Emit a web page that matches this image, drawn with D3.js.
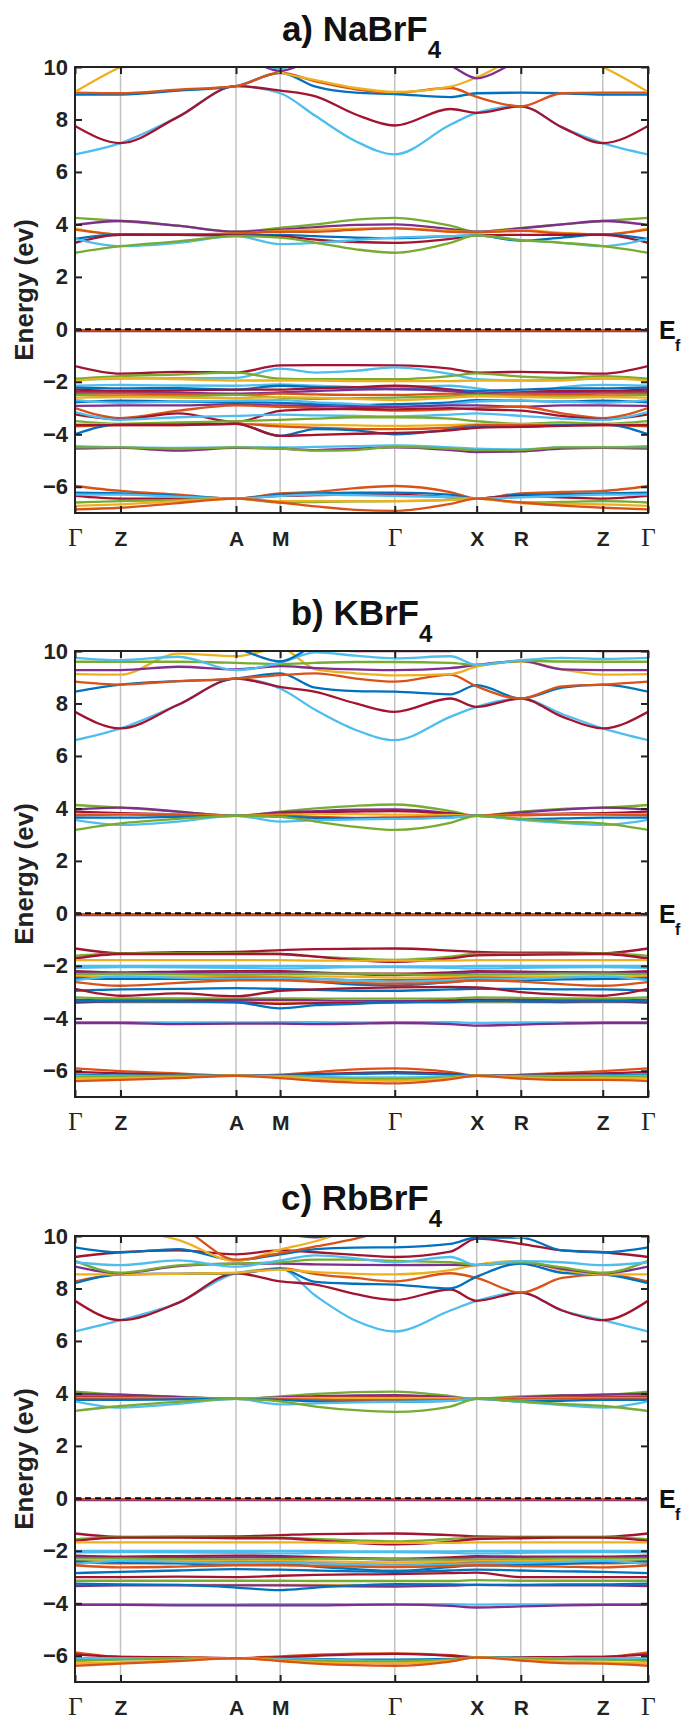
<!DOCTYPE html>
<html>
<head>
<meta charset="utf-8">
<script src="https://cdn.jsdelivr.net/npm/d3@7"></script>
<style>
  body { margin: 0; background: #fff; }
</style>
</head>
<body>
<div id="chart"></div>
<script>
// k-path sample points (fraction of path length) and high-symmetry ticks
const kPos = [0, 0.0794, 0.18, 0.281, 0.358, 0.42, 0.49, 0.558, 0.655, 0.701, 0.778, 0.85, 0.921, 1.0];
const kTicks = [0, 0.0794, 0.281, 0.358, 0.558, 0.701, 0.778, 0.921, 1.0];
const kLabels = ["\u0393", "Z", "A", "M", "\u0393", "X", "R", "Z", "\u0393"];
const yTicks = [-6, -4, -2, 0, 2, 4, 6, 8, 10];
const titles = ["a) NaBrF", "b) KBrF", "c) RbBrF"];

// MATLAB default colour order
const palette = { b: "#0072BD", o: "#D95319", y: "#EDB120", p: "#7E2F8E", g: "#77AC30", c: "#4DBEEE", r: "#A2142F" };

// ---------- a) NaBrF4 ----------
const naBands = [
  [6.67, 7.1, 8.1, 9.27, 9.0, 8.13, 7.17, 6.67, 7.8, 8.25, 8.5, 7.7, 7.1, 6.67],
  [7.75, 7.1, 8.1, 9.27, 9.1, 8.88, 8.19, 7.77, 8.4, 8.25, 8.5, 7.7, 7.1, 7.75],
  [8.95, 8.95, 9.1, 9.27, 9.78, 9.25, 9.02, 8.97, 8.85, 9.0, 9.02, 9.0, 8.95, 8.95],
  [9.02, 9.0, 9.14, 9.27, 9.78, 9.45, 9.15, 9.02, 9.2, 8.86, 8.5, 9.0, 9.02, 9.02],
  [9.05, 10.0, 10.8, 10.5, 9.8, 9.5, 9.2, 9.05, 9.25, 9.6, 10.4, 10.6, 10.0, 9.05],
  [10.3, 10.0, 10.1, 10.4, 9.85, 10.3, 10.5, 10.5, 10.05, 9.57, 10.2, 10.3, 10.0, 10.3],
  [10.6, 10.6, 10.5, 10.3, 9.95, 10.4, 10.6, 10.6, 10.6, 10.3, 10.5, 10.6, 10.6, 10.6],
  [4.25, 4.13, 3.95, 3.72, 3.87, 4.0, 4.18, 4.25, 3.95, 3.72, 3.87, 4.0, 4.13, 4.25],
  [3.98, 4.13, 3.95, 3.72, 3.8, 3.9, 3.98, 4.0, 3.82, 3.72, 3.85, 4.0, 4.13, 3.98],
  [3.85, 3.62, 3.62, 3.65, 3.75, 3.8, 3.84, 3.86, 3.75, 3.7, 3.78, 3.68, 3.62, 3.85],
  [3.8, 3.62, 3.62, 3.65, 3.72, 3.72, 3.8, 3.85, 3.72, 3.7, 3.75, 3.65, 3.62, 3.8],
  [3.45, 3.62, 3.6, 3.58, 3.6, 3.55, 3.5, 3.48, 3.55, 3.58, 3.38, 3.5, 3.62, 3.45],
  [3.3, 3.6, 3.6, 3.58, 3.55, 3.42, 3.33, 3.3, 3.45, 3.58, 3.6, 3.6, 3.6, 3.3],
  [3.45, 3.17, 3.3, 3.55, 3.25, 3.3, 3.4, 3.5, 3.55, 3.58, 3.4, 3.3, 3.17, 3.45],
  [2.92, 3.17, 3.35, 3.55, 3.5, 3.3, 3.05, 2.92, 3.3, 3.58, 3.4, 3.3, 3.17, 2.92],
  [-0.07, -0.07, -0.07, -0.07, -0.07, -0.07, -0.07, -0.07, -0.07, -0.07, -0.07, -0.07, -0.07, -0.07],
  [-0.03, -0.03, -0.03, -0.03, -0.03, -0.03, -0.03, -0.03, -0.03, -0.03, -0.03, -0.03, -0.03, -0.03],
  [-1.40, -1.69, -1.62, -1.65, -1.37, -1.36, -1.36, -1.37, -1.5, -1.65, -1.62, -1.65, -1.69, -1.40],
  [-1.92, -1.88, -1.86, -1.85, -1.5, -1.65, -1.58, -1.45, -1.7, -1.9, -1.95, -1.92, -1.88, -1.92],
  [-1.88, -1.78, -1.72, -1.65, -1.88, -1.9, -1.9, -1.9, -1.78, -1.68, -1.8, -1.85, -1.78, -1.88],
  [-1.96, -1.85, -1.9, -1.95, -1.95, -1.95, -1.97, -1.97, -1.97, -1.95, -1.95, -1.95, -1.85, -1.96],
  [-2.15, -2.12, -2.14, -2.15, -2.1, -2.15, -2.2, -2.2, -2.15, -2.25, -2.45, -2.2, -2.12, -2.15],
  [-2.22, -2.25, -2.24, -2.3, -2.15, -2.2, -2.22, -2.28, -2.3, -2.35, -2.3, -2.25, -2.25, -2.22],
  [-2.3, -2.35, -2.33, -2.3, -2.3, -2.25, -2.2, -2.15, -2.3, -2.45, -2.4, -2.35, -2.35, -2.3],
  [-2.38, -2.4, -2.42, -2.45, -2.4, -2.35, -2.3, -2.28, -2.35, -2.45, -2.4, -2.42, -2.4, -2.38],
  [-2.45, -2.45, -2.47, -2.5, -2.45, -2.48, -2.5, -2.5, -2.45, -2.5, -2.45, -2.47, -2.45, -2.45],
  [-2.5, -2.55, -2.55, -2.5, -2.6, -2.65, -2.62, -2.6, -2.55, -2.5, -2.55, -2.55, -2.55, -2.5],
  [-2.6, -2.58, -2.6, -2.62, -2.58, -2.6, -2.65, -2.7, -2.6, -2.55, -2.58, -2.6, -2.58, -2.6],
  [-2.78, -2.72, -2.75, -2.78, -2.8, -2.85, -2.88, -2.85, -2.78, -2.7, -2.72, -2.75, -2.72, -2.78],
  [-2.7, -2.8, -2.75, -2.72, -2.7, -2.78, -2.85, -2.95, -2.85, -2.75, -2.72, -2.75, -2.8, -2.7],
  [-2.92, -2.9, -2.9, -2.85, -2.9, -2.92, -2.95, -2.95, -2.9, -2.9, -2.95, -2.9, -2.9, -2.92],
  [-3.0, -3.38, -3.1, -2.9, -2.95, -3.0, -3.05, -3.1, -3.05, -3.0, -2.95, -3.2, -3.38, -3.0],
  [-3.24, -3.43, -3.2, -3.53, -3.11, -3.05, -3.03, -3.05, -3.0, -3.05, -3.1, -3.3, -3.43, -3.24],
  [-3.15, -3.45, -3.35, -3.3, -3.25, -3.28, -3.3, -3.32, -3.25, -3.2, -3.3, -3.4, -3.45, -3.15],
  [-3.5, -3.6, -3.55, -3.5, -3.45, -3.4, -3.35, -3.35, -3.4, -3.5, -3.6, -3.55, -3.6, -3.5],
  [-3.62, -3.62, -3.62, -3.6, -3.62, -3.64, -3.66, -3.68, -3.65, -3.62, -3.62, -3.62, -3.62, -3.62],
  [-3.7, -3.65, -3.65, -3.6, -3.7, -3.75, -3.8, -3.8, -3.75, -3.65, -3.65, -3.65, -3.65, -3.7],
  [-4.0, -3.62, -3.62, -3.6, -4.06, -3.8, -3.85, -4.0, -3.82, -3.72, -3.72, -3.65, -3.62, -4.0],
  [-3.65, -3.65, -3.65, -3.6, -4.06, -4.02, -3.98, -3.95, -3.85, -3.75, -3.72, -3.68, -3.65, -3.65],
  [-4.45, -4.5, -4.52, -4.5, -4.5, -4.48, -4.45, -4.42, -4.5, -4.55, -4.58, -4.5, -4.5, -4.45],
  [-4.55, -4.52, -4.62, -4.52, -4.55, -4.6, -4.55, -4.5, -4.6, -4.68, -4.65, -4.55, -4.52, -4.55],
  [-4.5, -4.5, -4.55, -4.5, -4.55, -4.62, -4.6, -4.48, -4.55, -4.6, -4.6, -4.5, -4.5, -4.5],
  [-5.97, -6.16, -6.3, -6.45, -6.25, -6.2, -6.05, -5.97, -6.2, -6.45, -6.25, -6.2, -6.16, -5.97],
  [-6.22, -6.25, -6.35, -6.45, -6.3, -6.25, -6.22, -6.22, -6.3, -6.45, -6.3, -6.28, -6.25, -6.22],
  [-6.35, -6.45, -6.45, -6.45, -6.35, -6.32, -6.3, -6.3, -6.4, -6.45, -6.35, -6.4, -6.45, -6.35],
  [-6.3, -6.3, -6.38, -6.45, -6.35, -6.3, -6.32, -6.35, -6.4, -6.45, -6.4, -6.35, -6.3, -6.3],
  [-6.6, -6.55, -6.5, -6.45, -6.6, -6.58, -6.56, -6.55, -6.5, -6.45, -6.6, -6.58, -6.55, -6.6],
  [-6.73, -6.67, -6.55, -6.45, -6.55, -6.55, -6.55, -6.55, -6.5, -6.45, -6.62, -6.65, -6.67, -6.73],
  [-6.86, -6.8, -6.62, -6.45, -6.6, -6.75, -6.88, -6.92, -6.65, -6.45, -6.6, -6.72, -6.8, -6.86]
];
const naColors = ["c","r","b","o","y","p","c",
  "g","p","y","o","b","r","c","g",
  "p","o",
  "r","c","g","y","c","b","r","p","o","g","y","b","c","p","o","r","c","g","y","o","b","r","c","p","g",
  "o","b","r","c","g","y","o"];

// ---------- b) KBrF4 ----------
const kBands = [
  [6.6, 7.05, 7.95, 8.95, 8.57, 7.75, 6.99, 6.6, 7.49, 7.87, 8.19, 7.6, 7.05, 6.6],
  [7.68, 7.05, 7.95, 8.95, 8.63, 8.44, 8.0, 7.68, 8.19, 7.87, 8.19, 7.5, 7.05, 7.68],
  [8.45, 8.72, 8.85, 8.95, 9.15, 8.6, 8.47, 8.45, 8.35, 8.7, 8.19, 8.6, 8.72, 8.45],
  [8.83, 8.72, 8.85, 8.95, 9.08, 9.15, 8.95, 8.83, 9.1, 8.65, 8.19, 8.65, 8.72, 8.83],
  [9.12, 9.1, 9.9, 9.8, 10.1, 9.3, 9.15, 9.07, 9.12, 9.4, 9.6, 9.3, 9.1, 9.12],
  [9.27, 9.27, 9.4, 9.3, 9.42, 9.35, 9.3, 9.27, 9.35, 9.47, 9.62, 9.3, 9.27, 9.27],
  [9.59, 9.59, 9.59, 9.55, 9.5, 9.55, 9.58, 9.58, 9.55, 9.47, 9.62, 9.6, 9.59, 9.59],
  [9.74, 9.65, 9.78, 9.27, 9.55, 9.95, 9.82, 9.72, 9.8, 9.47, 9.65, 9.74, 9.7, 9.74],
  [10.5, 10.5, 10.4, 10.1, 9.6, 10.2, 10.4, 10.5, 10.5, 10.5, 10.4, 10.5, 10.5, 10.5],
  [10.0, 10.05, 10.3, 10.3, 10.2, 10.05, 10.0, 10.0, 10.0, 10.2, 10.2, 10.05, 10.0, 10.0],
  [4.13, 4.03, 3.88, 3.72, 3.88, 4.0, 4.1, 4.15, 3.9, 3.72, 3.88, 3.98, 4.03, 4.13],
  [3.96, 4.03, 3.88, 3.72, 3.85, 3.9, 3.95, 3.96, 3.82, 3.72, 3.85, 3.95, 4.03, 3.96],
  [3.88, 3.82, 3.77, 3.72, 3.8, 3.85, 3.88, 3.9, 3.8, 3.72, 3.78, 3.8, 3.82, 3.88],
  [3.78, 3.78, 3.76, 3.74, 3.76, 3.78, 3.78, 3.76, 3.75, 3.72, 3.76, 3.78, 3.78, 3.78],
  [3.74, 3.76, 3.74, 3.72, 3.72, 3.68, 3.64, 3.66, 3.7, 3.72, 3.74, 3.76, 3.76, 3.74],
  [3.65, 3.65, 3.68, 3.72, 3.68, 3.64, 3.62, 3.62, 3.66, 3.72, 3.6, 3.62, 3.65, 3.65],
  [3.56, 3.37, 3.5, 3.72, 3.5, 3.55, 3.58, 3.6, 3.65, 3.72, 3.56, 3.45, 3.37, 3.56],
  [3.18, 3.43, 3.6, 3.72, 3.68, 3.5, 3.3, 3.18, 3.45, 3.72, 3.6, 3.5, 3.43, 3.18],
  [-0.07, -0.07, -0.07, -0.07, -0.07, -0.07, -0.07, -0.07, -0.07, -0.07, -0.07, -0.07, -0.07, -0.07],
  [-0.03, -0.03, -0.03, -0.03, -0.03, -0.03, -0.03, -0.03, -0.03, -0.03, -0.03, -0.03, -0.03, -0.03],
  [-1.34, -1.52, -1.48, -1.47, -1.4, -1.36, -1.35, -1.34, -1.42, -1.47, -1.5, -1.5, -1.52, -1.34],
  [-1.62, -1.53, -1.52, -1.52, -1.55, -1.65, -1.72, -1.77, -1.65, -1.55, -1.55, -1.55, -1.53, -1.62],
  [-1.72, -1.55, -1.55, -1.55, -1.55, -1.65, -1.78, -1.85, -1.72, -1.6, -1.58, -1.56, -1.55, -1.72],
  [-1.78, -1.78, -1.78, -1.78, -1.78, -1.8, -1.8, -1.8, -1.8, -1.78, -1.78, -1.78, -1.78, -1.78],
  [-2.0, -2.0, -2.0, -2.0, -2.0, -2.0, -2.02, -2.02, -2.02, -2.0, -2.0, -2.0, -2.0, -2.0],
  [-2.08, -2.05, -2.06, -2.08, -2.1, -2.08, -2.05, -2.05, -2.08, -2.1, -2.08, -2.06, -2.05, -2.08],
  [-2.2, -2.25, -2.22, -2.2, -2.2, -2.25, -2.3, -2.3, -2.25, -2.2, -2.22, -2.24, -2.25, -2.2],
  [-2.25, -2.28, -2.27, -2.25, -2.25, -2.28, -2.32, -2.35, -2.3, -2.25, -2.25, -2.27, -2.28, -2.25],
  [-2.32, -2.3, -2.32, -2.35, -2.32, -2.3, -2.3, -2.32, -2.35, -2.35, -2.32, -2.3, -2.3, -2.32],
  [-2.38, -2.4, -2.4, -2.42, -2.4, -2.4, -2.42, -2.45, -2.42, -2.4, -2.4, -2.4, -2.4, -2.38],
  [-2.45, -2.5, -2.48, -2.45, -2.45, -2.5, -2.55, -2.55, -2.5, -2.45, -2.48, -2.5, -2.5, -2.45],
  [-2.48, -2.5, -2.5, -2.53, -2.52, -2.6, -2.72, -2.75, -2.62, -2.55, -2.55, -2.52, -2.5, -2.48],
  [-2.55, -2.4, -2.45, -2.5, -2.48, -2.5, -2.55, -2.6, -2.55, -2.5, -2.5, -2.45, -2.4, -2.55],
  [-2.62, -2.76, -2.65, -2.55, -2.55, -2.6, -2.65, -2.68, -2.62, -2.55, -2.6, -2.7, -2.76, -2.62],
  [-2.95, -2.9, -2.88, -2.85, -2.88, -2.92, -2.95, -2.95, -2.9, -2.88, -2.88, -2.9, -2.9, -2.95],
  [-2.88, -3.14, -3.05, -3.16, -2.95, -2.9, -2.85, -2.82, -2.8, -2.82, -3.0, -3.1, -3.14, -2.88],
  [-3.2, -3.24, -3.24, -3.24, -3.24, -3.25, -3.25, -3.25, -3.25, -3.2, -3.22, -3.24, -3.24, -3.2],
  [-3.3, -3.32, -3.32, -3.3, -3.3, -3.32, -3.35, -3.35, -3.32, -3.3, -3.3, -3.32, -3.32, -3.3],
  [-3.38, -3.39, -3.39, -3.39, -3.39, -3.39, -3.39, -3.4, -3.39, -3.39, -3.39, -3.39, -3.39, -3.38],
  [-3.4, -3.35, -3.35, -3.38, -3.45, -3.42, -3.4, -3.38, -3.35, -3.3, -3.35, -3.38, -3.35, -3.4],
  [-3.35, -3.35, -3.36, -3.39, -3.62, -3.5, -3.45, -3.39, -3.38, -3.35, -3.36, -3.36, -3.35, -3.35],
  [-4.15, -4.15, -4.16, -4.16, -4.15, -4.15, -4.16, -4.15, -4.15, -4.18, -4.16, -4.16, -4.15, -4.15],
  [-4.18, -4.18, -4.22, -4.2, -4.2, -4.22, -4.2, -4.18, -4.22, -4.28, -4.24, -4.2, -4.18, -4.18],
  [-5.91, -6.01, -6.1, -6.19, -6.15, -6.05, -5.95, -5.91, -6.05, -6.19, -6.15, -6.08, -6.01, -5.91],
  [-6.04, -6.1, -6.15, -6.19, -6.18, -6.12, -6.08, -6.05, -6.12, -6.19, -6.17, -6.12, -6.1, -6.04],
  [-6.14, -6.18, -6.19, -6.19, -6.19, -6.15, -6.12, -6.1, -6.15, -6.19, -6.2, -6.2, -6.18, -6.14],
  [-6.19, -6.2, -6.2, -6.19, -6.2, -6.22, -6.25, -6.25, -6.22, -6.19, -6.2, -6.2, -6.2, -6.19],
  [-6.25, -6.22, -6.2, -6.19, -6.22, -6.28, -6.32, -6.32, -6.25, -6.19, -6.22, -6.24, -6.22, -6.25],
  [-6.29, -6.28, -6.25, -6.19, -6.24, -6.3, -6.36, -6.38, -6.28, -6.19, -6.26, -6.3, -6.28, -6.29],
  [-6.39, -6.35, -6.28, -6.19, -6.28, -6.38, -6.45, -6.48, -6.32, -6.19, -6.3, -6.35, -6.35, -6.39]
];
const kColors = ["c","r","b","o","y","p","g","c","b","r",
  "g","p","r","y","o","b","c","g",
  "p","o",
  "r","g","r","y","c","c","r","p","g","y","o","b","c","o","b","r","g","p","y","r","b","c","p",
  "o","r","b","c","g","y","o"];

// ---------- c) RbBrF4 ----------
const rbBands = [
  [6.36, 6.79, 7.45, 8.58, 8.75, 7.72, 6.77, 6.36, 7.16, 7.53, 7.84, 7.16, 6.79, 6.36],
  [7.53, 6.79, 7.45, 8.58, 8.27, 8.15, 7.78, 7.56, 7.96, 7.53, 7.84, 7.16, 6.79, 7.53],
  [8.27, 8.54, 8.56, 8.58, 8.77, 8.55, 8.4, 8.27, 8.58, 8.4, 7.84, 8.4, 8.54, 8.27],
  [8.2, 8.54, 8.56, 8.58, 8.75, 8.25, 8.18, 8.15, 8.0, 8.45, 8.95, 8.6, 8.54, 8.2],
  [8.54, 8.54, 8.56, 8.6, 8.72, 8.62, 8.56, 8.54, 8.7, 8.9, 9.05, 8.7, 8.54, 8.54],
  [8.83, 8.58, 8.85, 8.95, 8.95, 8.92, 8.9, 8.89, 8.9, 8.89, 9.0, 8.75, 8.58, 8.83],
  [9.05, 8.6, 8.88, 8.95, 9.0, 9.1, 9.1, 9.05, 9.0, 8.9, 9.0, 8.8, 8.6, 9.05],
  [9.0, 8.89, 9.07, 8.83, 9.07, 9.26, 9.15, 9.0, 9.2, 8.89, 9.04, 9.0, 8.89, 9.0],
  [9.2, 9.38, 9.45, 9.3, 9.45, 9.38, 9.28, 9.2, 9.4, 9.9, 9.7, 9.45, 9.38, 9.2],
  [9.57, 9.38, 9.5, 9.07, 9.3, 9.5, 9.56, 9.57, 9.7, 9.94, 9.94, 9.45, 9.38, 9.57],
  [10.6, 10.3, 9.85, 9.05, 9.48, 9.8, 10.3, 10.6, 10.5, 10.4, 9.95, 10.3, 10.3, 10.6],
  [10.5, 10.5, 10.3, 9.1, 9.35, 9.6, 9.9, 10.3, 10.5, 10.5, 10.5, 10.5, 10.5, 10.5],
  [10.5, 10.5, 10.5, 10.4, 10.1, 9.95, 10.3, 10.5, 10.5, 10.5, 10.5, 10.5, 10.5, 10.5],
  [4.07, 3.95, 3.88, 3.79, 3.89, 3.98, 4.05, 4.07, 3.9, 3.79, 3.89, 3.93, 3.95, 4.07],
  [3.98, 3.95, 3.86, 3.79, 3.85, 3.9, 3.92, 3.93, 3.85, 3.79, 3.85, 3.92, 3.95, 3.98],
  [3.89, 3.86, 3.82, 3.79, 3.82, 3.85, 3.86, 3.86, 3.82, 3.79, 3.82, 3.85, 3.86, 3.89],
  [3.83, 3.83, 3.82, 3.8, 3.82, 3.83, 3.83, 3.83, 3.82, 3.8, 3.82, 3.83, 3.83, 3.83],
  [3.8, 3.8, 3.8, 3.79, 3.78, 3.76, 3.74, 3.74, 3.76, 3.79, 3.8, 3.8, 3.8, 3.8],
  [3.75, 3.75, 3.77, 3.79, 3.75, 3.7, 3.68, 3.68, 3.72, 3.79, 3.7, 3.72, 3.75, 3.75],
  [3.7, 3.46, 3.6, 3.79, 3.58, 3.62, 3.66, 3.68, 3.72, 3.79, 3.68, 3.55, 3.46, 3.7],
  [3.33, 3.52, 3.68, 3.79, 3.7, 3.5, 3.36, 3.3, 3.5, 3.79, 3.7, 3.6, 3.52, 3.33],
  [-0.07, -0.07, -0.07, -0.07, -0.07, -0.07, -0.07, -0.07, -0.07, -0.07, -0.07, -0.07, -0.07, -0.07],
  [-0.03, -0.03, -0.03, -0.03, -0.03, -0.03, -0.03, -0.03, -0.03, -0.03, -0.03, -0.03, -0.03, -0.03],
  [-1.34, -1.47, -1.46, -1.45, -1.4, -1.36, -1.35, -1.34, -1.4, -1.45, -1.47, -1.47, -1.47, -1.34],
  [-1.56, -1.48, -1.48, -1.5, -1.5, -1.55, -1.6, -1.64, -1.55, -1.5, -1.5, -1.48, -1.48, -1.56],
  [-1.62, -1.5, -1.5, -1.52, -1.52, -1.6, -1.7, -1.75, -1.65, -1.55, -1.52, -1.5, -1.5, -1.62],
  [-1.68, -1.68, -1.68, -1.68, -1.68, -1.68, -1.7, -1.7, -1.7, -1.68, -1.68, -1.68, -1.68, -1.68],
  [-2.0, -2.0, -2.0, -2.0, -2.0, -2.0, -2.02, -2.02, -2.02, -2.0, -2.0, -2.0, -2.0, -2.0],
  [-2.06, -2.05, -2.06, -2.08, -2.1, -2.08, -2.05, -2.05, -2.08, -2.1, -2.08, -2.06, -2.05, -2.06],
  [-2.18, -2.22, -2.2, -2.18, -2.2, -2.24, -2.28, -2.3, -2.25, -2.2, -2.22, -2.22, -2.22, -2.18],
  [-2.24, -2.27, -2.26, -2.25, -2.25, -2.28, -2.3, -2.33, -2.3, -2.25, -2.25, -2.26, -2.27, -2.24],
  [-2.3, -2.3, -2.32, -2.34, -2.32, -2.3, -2.3, -2.32, -2.34, -2.34, -2.32, -2.3, -2.3, -2.3],
  [-2.36, -2.38, -2.38, -2.4, -2.38, -2.4, -2.42, -2.44, -2.42, -2.4, -2.38, -2.38, -2.38, -2.36],
  [-2.42, -2.48, -2.46, -2.44, -2.44, -2.48, -2.52, -2.54, -2.5, -2.45, -2.46, -2.48, -2.48, -2.42],
  [-2.4, -2.45, -2.48, -2.53, -2.5, -2.6, -2.7, -2.76, -2.62, -2.55, -2.55, -2.5, -2.45, -2.4],
  [-2.5, -2.38, -2.42, -2.46, -2.45, -2.48, -2.52, -2.56, -2.52, -2.48, -2.46, -2.42, -2.38, -2.5],
  [-2.55, -2.63, -2.6, -2.55, -2.55, -2.58, -2.6, -2.62, -2.58, -2.55, -2.58, -2.6, -2.63, -2.55],
  [-2.85, -2.8, -2.75, -2.7, -2.72, -2.75, -2.78, -2.8, -2.75, -2.72, -2.75, -2.78, -2.8, -2.85],
  [-3.0, -3.0, -2.98, -3.0, -2.95, -2.92, -2.9, -2.89, -2.85, -2.83, -3.0, -3.0, -3.0, -3.0],
  [-3.14, -3.14, -3.14, -3.14, -3.14, -3.15, -3.15, -3.15, -3.15, -3.12, -3.14, -3.14, -3.14, -3.14],
  [-3.3, -3.3, -3.3, -3.3, -3.3, -3.3, -3.3, -3.31, -3.3, -3.3, -3.3, -3.3, -3.3, -3.3],
  [-3.34, -3.32, -3.32, -3.32, -3.32, -3.33, -3.35, -3.36, -3.33, -3.3, -3.32, -3.32, -3.32, -3.34],
  [-3.25, -3.28, -3.3, -3.4, -3.5, -3.4, -3.32, -3.27, -3.28, -3.3, -3.3, -3.28, -3.28, -3.25],
  [-4.03, -4.03, -4.04, -4.04, -4.03, -4.03, -4.04, -4.03, -4.03, -4.05, -4.04, -4.04, -4.03, -4.03],
  [-4.06, -4.06, -4.08, -4.08, -4.08, -4.08, -4.06, -4.05, -4.1, -4.16, -4.12, -4.08, -4.06, -4.06],
  [-5.87, -6.04, -6.06, -6.09, -6.02, -5.96, -5.92, -5.91, -5.98, -6.06, -6.06, -6.05, -6.04, -5.87],
  [-5.95, -6.04, -6.06, -6.09, -6.05, -6.0, -5.95, -5.93, -6.0, -6.06, -6.06, -6.05, -6.04, -5.95],
  [-6.12, -6.1, -6.1, -6.09, -6.1, -6.12, -6.15, -6.15, -6.12, -6.06, -6.08, -6.1, -6.1, -6.12],
  [-6.09, -6.1, -6.1, -6.09, -6.12, -6.15, -6.18, -6.2, -6.15, -6.06, -6.08, -6.1, -6.1, -6.09],
  [-6.19, -6.15, -6.12, -6.09, -6.15, -6.2, -6.22, -6.22, -6.15, -6.06, -6.1, -6.14, -6.15, -6.19],
  [-6.29, -6.25, -6.18, -6.09, -6.18, -6.25, -6.28, -6.29, -6.2, -6.06, -6.15, -6.22, -6.25, -6.29],
  [-6.38, -6.3, -6.2, -6.09, -6.2, -6.3, -6.36, -6.38, -6.22, -6.06, -6.18, -6.28, -6.3, -6.38]
];
const rbColors = ["c","r","o","b","y","p","g","c","r","b","y","o","p",
  "g","p","r","y","o","b","c","g",
  "p","o",
  "r","g","r","y","c","c","r","p","g","y","o","b","c","o","b","r","g","y","p","b","c","p",
  "o","r","b","c","g","y","o"];

const panelBands = [naBands, kBands, rbBands];
const panelColors = [naColors, kColors, rbColors];

const width = 683, height = 1719;
const plotLeft = 75, plotRight = 648, plotH = 446;
const panelTops = [67, 651, 1236];

const svg = d3.select("#chart").append("svg")
  .attr("width", width)
  .attr("height", height)
  .style("font-family", "'Liberation Sans', Arial, sans-serif");

const x = d3.scaleLinear().domain([0, 1]).range([plotLeft, plotRight]);

panelTops.forEach((top, pi) => {
  const y = d3.scaleLinear().domain([-7, 10]).range([top + plotH, top]);
  const g = svg.append("g");
  const clipId = "clip" + pi;

  g.append("clipPath").attr("id", clipId)
    .append("rect")
    .attr("x", plotLeft).attr("y", top)
    .attr("width", plotRight - plotLeft).attr("height", plotH);

  // grey lines at high-symmetry points
  g.append("g").selectAll("line")
    .data(kTicks.slice(1, -1))
    .enter().append("line")
    .attr("x1", d => x(d)).attr("x2", d => x(d))
    .attr("y1", top).attr("y2", top + plotH)
    .attr("stroke", "#c2c2c2")
    .attr("stroke-width", 1.5);

  // bands
  const line = d3.line()
    .x((d, i) => x(kPos[i]))
    .y(d => y(d))
    .curve(d3.curveMonotoneX);

  g.append("g").attr("clip-path", `url(#${clipId})`)
    .selectAll("path")
    .data(panelBands[pi])
    .enter().append("path")
    .attr("d", d => line(d))
    .attr("fill", "none")
    .attr("stroke", (d, i) => palette[panelColors[pi][i]])
    .attr("stroke-width", 2.3)
    .attr("stroke-linejoin", "round");

  // Fermi level
  g.append("line")
    .attr("x1", plotLeft).attr("x2", plotRight)
    .attr("y1", y(0)).attr("y2", y(0))
    .attr("stroke", "#000")
    .attr("stroke-width", 2)
    .attr("stroke-dasharray", "6,4");

  // axes
  const yAxis = g.append("g")
    .attr("transform", `translate(${plotLeft},0)`)
    .call(d3.axisLeft(y).tickValues(yTicks).tickSize(-7).tickPadding(7).tickFormat(d3.format("d")));
  yAxis.select(".domain").remove();
  yAxis.selectAll("line").attr("stroke", "#222").attr("stroke-width", 2);
  yAxis.selectAll("text")
    .style("font-size", "22px")
    .style("font-weight", "bold")
    .attr("fill", "#222");

  const yAxisR = g.append("g")
    .attr("transform", `translate(${plotRight},0)`)
    .call(d3.axisRight(y).tickValues(yTicks).tickSize(-7).tickFormat(""));
  yAxisR.select(".domain").remove();
  yAxisR.selectAll("line").attr("stroke", "#222").attr("stroke-width", 2);

  const xAxis = g.append("g")
    .attr("transform", `translate(0,${top + plotH})`)
    .call(d3.axisBottom(x).tickValues(kTicks).tickSize(-7).tickFormat((d, i) => kLabels[i]));
  xAxis.select(".domain").remove();
  xAxis.selectAll("line").attr("stroke", "#222").attr("stroke-width", 2);
  xAxis.selectAll("text")
    .attr("y", 33).attr("dy", 0)
    .attr("fill", "#222")
    .style("font-family", d => (kLabels[kTicks.indexOf(d)] === "\u0393") ? "'Liberation Serif', 'Times New Roman', serif" : null)
    .style("font-size", d => (kLabels[kTicks.indexOf(d)] === "\u0393") ? "25px" : "21px")
    .style("font-weight", d => (kLabels[kTicks.indexOf(d)] === "\u0393") ? "normal" : "bold");

  const xAxisT = g.append("g")
    .attr("transform", `translate(0,${top})`)
    .call(d3.axisTop(x).tickValues(kTicks).tickSize(-7).tickFormat(""));
  xAxisT.select(".domain").remove();
  xAxisT.selectAll("line").attr("stroke", "#222").attr("stroke-width", 2);

  // frame
  g.append("rect")
    .attr("x", plotLeft).attr("y", top)
    .attr("width", plotRight - plotLeft).attr("height", plotH)
    .attr("fill", "none")
    .attr("stroke", "#222")
    .attr("stroke-width", 2);

  // title
  const t = g.append("text")
    .attr("x", (plotLeft + plotRight) / 2)
    .attr("y", top - 26)
    .attr("text-anchor", "middle")
    .style("font-size", "35px")
    .style("font-weight", "bold")
    .attr("fill", "#111")
    .text(titles[pi]);
  t.append("tspan").attr("dy", 17).style("font-size", "24px").text("4");

  // y label
  g.append("text")
    .attr("transform", `translate(33,${top + plotH / 2}) rotate(-90)`)
    .attr("text-anchor", "middle")
    .style("font-size", "26px")
    .style("font-weight", "bold")
    .attr("fill", "#222")
    .text("Energy (ev)");

  // E_f label
  g.append("text")
    .attr("x", 659).attr("y", y(0) + 10)
    .style("font-size", "25px")
    .style("font-weight", "bold")
    .attr("fill", "#111")
    .text("E");
  g.append("text")
    .attr("x", 675).attr("y", y(0) + 22)
    .style("font-size", "16px")
    .style("font-weight", "bold")
    .attr("fill", "#111")
    .text("f");
});
</script>
</body>
</html>
